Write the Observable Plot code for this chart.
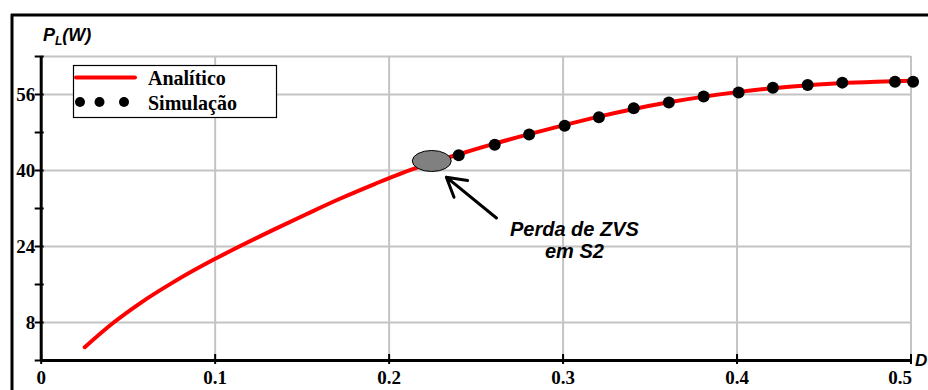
<!DOCTYPE html>
<html><head><meta charset="utf-8">
<script src="https://cdn.jsdelivr.net/npm/d3@7"></script>
<script src="https://cdn.jsdelivr.net/npm/@observablehq/plot@0.6"></script>
<style>
html,body{margin:0;padding:0;background:#fff;}
#chart{position:relative;width:928px;height:390px;overflow:hidden;}
</style></head><body><div id="chart"></div>
<script>
// Analytical curve (D, P_L in W)
const analyticD = [0.025, 0.042, 0.057, 0.076, 0.100, 0.115, 0.134, 0.153, 0.172, 0.192, 0.207, 0.225, 0.240, 0.260, 0.280, 0.300, 0.320, 0.340, 0.360, 0.380, 0.400, 0.420, 0.440, 0.460, 0.480, 0.500];
const analyticP = [2.8, 8.1, 12.1, 16.5, 21.4, 24.2, 27.6, 30.9, 34.1, 37.2, 39.4, 41.7, 43.4, 45.6, 47.6, 49.5, 51.3, 52.9, 54.3, 55.5, 56.5, 57.3, 57.9, 58.4, 58.7, 58.9];
// Simulation points
const simD = [0.240, 0.2607, 0.2805, 0.3009, 0.3206, 0.3406, 0.3608, 0.3808, 0.4009, 0.4206, 0.4406, 0.4605, 0.4908, 0.5012];
const simP = [43.2, 45.4, 47.6, 49.4, 51.2, 53.1, 54.3, 55.6, 56.4, 57.4, 58.0, 58.5, 58.7, 58.7];
// Axes
const yTicks = [0, 8, 16, 24, 32, 40, 48, 56, 64];
const yTickLabels = [8, 24, 40, 56];
const xTicks = [0, 0.1, 0.2, 0.3, 0.4, 0.5];
const xTickLabels = [0, 0.1, 0.2, 0.3, 0.4];
const xLastLabel = [0.5];
const gridYValues = [8, 24, 40, 56, 64];
const gridXValues = [0.1, 0.2, 0.3, 0.4, 0.5];
// Annotation
const zvsD = [0.2248], zvsP = [41.9];
const arrowD = [0.2617, 0.2329], arrowP = [30.0, 38.6];
const noteLines = ["Perda de ZVS", "em S2"];
const noteD = [0.3065, 0.3065], noteP = [27.6, 22.9];
const legendLabels = ["Analítico", "Simulação"];
const xLabel = "D";

const serif = "'Liberation Serif','Times New Roman',serif";
const sans = "'Liberation Sans',Arial,sans-serif";
const analytic = analyticD.map((d, i) => ({D: d, P: analyticP[i]}));
const sim = simD.map((d, i) => ({D: d, P: simP[i]}));
const arrows = [{x1: arrowD[0], y1: arrowP[0], x2: arrowD[1], y2: arrowP[1]}];
const notes = noteLines.map((t, i) => ({t, D: noteD[i], P: noteP[i]}));
const gridColor = "#c4c4c4";
const tickFont = {fontFamily: serif, fontWeight: "bold", fontSize: 19, fill: "black"};

const chart = Plot.plot({
  width: 928, height: 390,
  marginLeft: 40.7, marginRight: 17.5, marginTop: 56, marginBottom: 30,
  x: {domain: [0, 0.5], label: null},
  y: {domain: [0, 64], label: null},
  style: {background: "transparent", fontFamily: serif, overflow: "visible"},
  marks: [
    Plot.ruleY(gridYValues, {stroke: gridColor, strokeWidth: 2}),
    Plot.ruleX(gridXValues, {stroke: gridColor, strokeWidth: 2}),
    Plot.ruleX([0], {y1: 0, y2: 64, stroke: "black", strokeWidth: 3}),
    Plot.ruleY([0], {x1: 0, x2: 0.5, stroke: "black", strokeWidth: 3}),
    Plot.axisY(yTicks, {tickSize: 9, dx: 3, strokeWidth: 2, tickFormat: () => "", label: null}),
    Plot.axisY(yTickLabels, {tickSize: 0, tickPadding: 6, ...tickFont, label: null}),
    Plot.axisX(xTicks, {tickSize: 10, dy: -6, strokeWidth: 2, tickFormat: () => "", label: null}),
    Plot.axisX(xTickLabels, {tickSize: 0, tickPadding: 10, tickFormat: d => String(d), ...tickFont, label: null}),
    Plot.axisX(xLastLabel, {tickSize: 0, tickPadding: 10, dx: -11, tickFormat: d => String(d), ...tickFont, label: null}),
    Plot.line(analytic, {x: "D", y: "P", stroke: "#ff0000", strokeWidth: 4, curve: "monotone-x", strokeLinecap: "round"}),
    (index, scales) => {
      const g = d3.create("svg:g");
      zvsD.forEach((d, i) => {
        g.append("ellipse").attr("cx", scales.x(d)).attr("cy", scales.y(zvsP[i]))
          .attr("rx", 19.5).attr("ry", 10.5).attr("fill", "#808080").attr("stroke", "black").attr("stroke-width", 1);
      });
      return g.node();
    },
    Plot.dot(sim, {x: "D", y: "P", r: 6, fill: "black"}),
    Plot.arrow(arrows, {x1: "x1", y1: "y1", x2: "x2", y2: "y2", stroke: "black", strokeWidth: 3, headLength: 15}),
    Plot.text(notes, {x: "D", y: "P", text: "t", fontFamily: sans, fontStyle: "italic", fontWeight: "bold", fontSize: 20, fill: "black"}),
    Plot.text([xLabel], {x: () => 0.5, y: () => 0, text: d => d, dx: 4, textAnchor: "start", fontFamily: sans, fontStyle: "italic", fontWeight: "bold", fontSize: 17, fill: "black"})
  ]
});

const svg = d3.select(chart);
// Outer frame (top and left)
svg.append("line").attr("x1", 11).attr("x2", 928).attr("y1", 15).attr("y2", 15).attr("stroke", "black").attr("stroke-width", 3);
svg.append("line").attr("x1", 12).attr("x2", 12).attr("y1", 14).attr("y2", 390).attr("stroke", "black").attr("stroke-width", 3);
// Y label P_L(W)
const yl = svg.append("text").attr("x", 43).attr("y", 41).attr("text-anchor", "start").attr("font-family", sans).attr("font-style", "italic").attr("font-weight", "bold").attr("font-size", 18).attr("fill", "black");
yl.append("tspan").text("P");
yl.append("tspan").attr("font-size", 12).attr("dy", 4).text("L");
yl.append("tspan").attr("dy", -4).text("(W)");
// Legend
const lg = svg.append("g").attr("text-anchor", "start");
lg.append("rect").attr("x", 73.5).attr("y", 65.5).attr("width", 203).attr("height", 52).attr("fill", "white").attr("stroke", "black").attr("stroke-width", 1.2);
lg.append("line").attr("x1", 76).attr("x2", 135).attr("y1", 77.5).attr("y2", 77.5).attr("stroke", "#ff0000").attr("stroke-width", 4).attr("stroke-linecap", "round");
[80, 99.5, 124].forEach(cx => lg.append("circle").attr("cx", cx).attr("cy", 102).attr("r", 5).attr("fill", "black"));
lg.append("text").attr("x", 148).attr("y", 85).attr("text-anchor", "start").attr("font-family", serif).attr("font-weight", "bold").attr("font-size", 20).text(legendLabels[0]);
lg.append("text").attr("x", 148).attr("y", 110).attr("text-anchor", "start").attr("font-family", serif).attr("font-weight", "bold").attr("font-size", 20).text(legendLabels[1]);

document.getElementById("chart").appendChild(chart);
</script></body></html>
